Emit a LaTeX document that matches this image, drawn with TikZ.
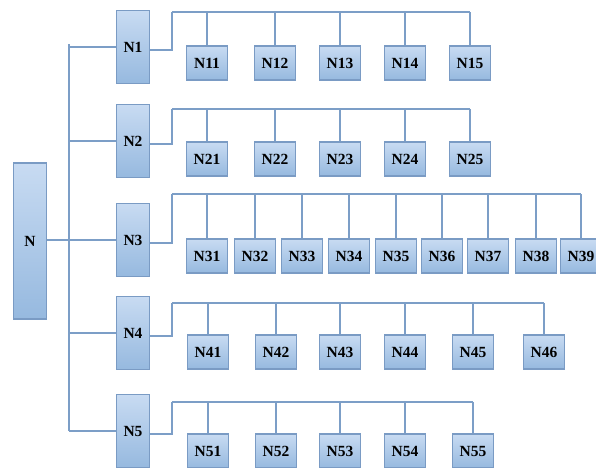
\documentclass[tikz,border=0pt]{standalone}
\usepackage{fontspec}
\setmainfont{Liberation Serif}

\definecolor{wireblue}{RGB}{124,158,199}
\definecolor{boxline}{RGB}{122,155,196}
\definecolor{boxtop}{RGB}{200,219,242}
\definecolor{boxbottom}{RGB}{150,185,223}

\begin{document}
\begin{tikzpicture}[x=1pt,y=-1pt]
  \tikzstyle{box}=[draw=boxline,line width=1.8pt,top color=boxtop,bottom color=boxbottom,inner sep=0pt,font=\fontsize{15.5}{15.5}\selectfont\bfseries]
  \tikzstyle{root}=[box,minimum width=33pt,minimum height=156pt]
  \tikzstyle{parent}=[box,minimum width=33pt,minimum height=73pt]
  \tikzstyle{leaf}=[box,minimum width=41pt,minimum height=34pt]
  \tikzstyle{wire}=[draw=wireblue,line width=2.3pt]

  \useasboundingbox (0,0) rectangle (596,467);
  \clip (0,0) rectangle (596,467);

  \node[root] (N) at (30,241) {N};
  \foreach \name/\y in {1/47, 2/141, 3/240, 4/333, 5/431}
    \node[parent] (N\name) at (133,\y) {N\name};

  % trunk
  \coordinate (T) at (69,44);
  \draw[wire] (N3.west -| N.east) -- (N3.west);
  \draw[wire] (T) -- (N5.west -| T);
  \foreach \name in {1,...,5}
    \draw[wire] (N\name.west) -- (N\name.west -| T);

  % leaves of each row
  \foreach \row/\y/\bus/\xs in {1/63/12/{207,275,340,405,470},
                                2/159/109/{207,275,340,405,470},
                                3/256/194/{207,255,302,349,396,442,488,536,581},
                                4/352/303/{208,276,340,405,473,544},
                                5/451/402/{208,276,340,405,473}} {
    \coordinate (B\row) at (172,\bus);
    \draw[wire] ([yshift=-3pt]N\row.east) -| (B\row);
    \foreach \x [count=\k] in \xs {
      \node[leaf] (N\row\k) at (\x,\y) {N\row\k};
      \draw[wire] (B\row) -- (B\row -| N\row\k.north);
      \draw[wire] (N\row\k.north) -- (N\row\k.north |- B\row);
    }
  }
\end{tikzpicture}
\end{document}
